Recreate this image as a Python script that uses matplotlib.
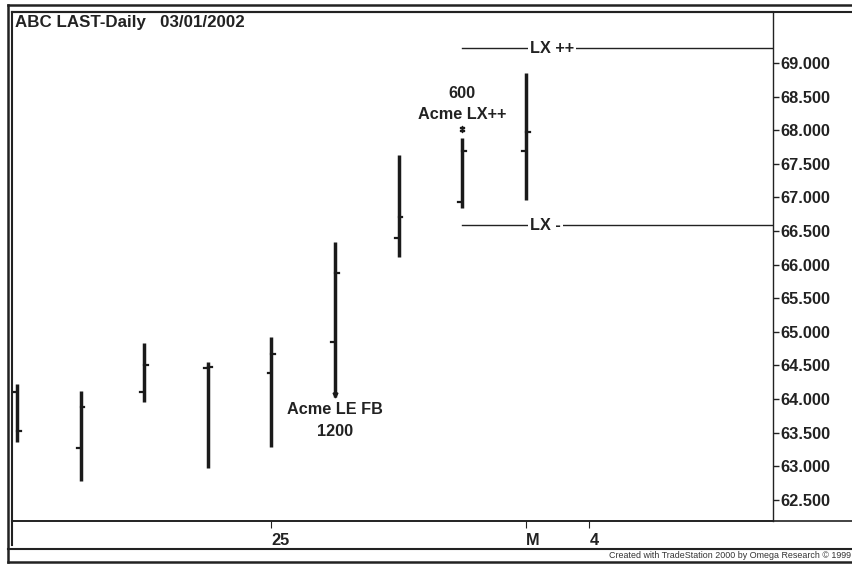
import numpy as np
import matplotlib
matplotlib.use("Agg")
import matplotlib.pyplot as plt
from matplotlib.lines import Line2D

plt.rcParams["font.family"] = ["Liberation Sans", "DejaVu Sans"]

# --- dati ---
bar_days = ["19", "20", "21", "22", "25", "26", "27", "28", "1"]
opens = [64.10, 63.27, 64.10, 64.46, 64.39, 64.85, 66.40, 66.93, 67.69]
highs = [64.22, 64.12, 64.83, 64.55, 64.92, 66.34, 67.63, 67.88, 68.85]
lows = [63.36, 62.78, 63.96, 62.97, 63.29, 64.03, 66.11, 66.84, 66.96]
closes = [63.52, 63.88, 64.51, 64.47, 64.67, 65.87, 66.71, 67.69, 67.97]

date_tick_pos = [4, 8, 9]
date_tick_labels = ["25", "M", "4"]

price_ticks = [62.5, 63.0, 63.5, 64.0, 64.5, 65.0, 65.5, 66.0, 66.5, 67.0, 67.5, 68.0, 68.5, 69.0]

lx_plus = 69.22
lx_minus = 66.59
lx_start = 7

entry_bar, entry_price = 5, 64.06
exit_bar, exit_price = 7, 68.02

W, H = 853, 564


def fx(px):
    return px / W


def fy(py):
    return 1 - py / H


fig = plt.figure(figsize=(W / 100, H / 100), dpi=100)
ax = fig.add_axes([fx(12), fy(521), fx(773 - 12), (521 - 12) / H])

x = np.arange(len(bar_days))
tick_w = 0.06
for i in x:
    ax.plot([i, i], [lows[i], highs[i]], color="#1a1a1a", lw=2.5, solid_capstyle="butt")
    ax.plot([i - tick_w, i], [opens[i], opens[i]], color="#1a1a1a", lw=1.6)
    ax.plot([i, i + tick_w], [closes[i], closes[i]], color="#1a1a1a", lw=1.6)

# segnali
ax.plot([entry_bar], [entry_price], marker="v", ms=3.5, color="#1a1a1a")
ax.plot([exit_bar], [exit_price], marker="$\u2021$", ms=5, color="#1a1a1a")

txt = dict(ha="center", va="center", fontsize=11.7, fontweight="bold", color="#222222")
ax.text(entry_bar, 63.84, "Acme LE FB", **txt)
ax.text(entry_bar, 63.51, "1200", **txt)
ax.text(exit_bar, 68.54, "600", **txt)
ax.text(exit_bar, 68.24, "Acme LX++", **txt)

# livelli di uscita
xmax = 11.89
ax.plot([lx_start, xmax], [lx_plus, lx_plus], color="#222222", lw=1.0)
ax.plot([lx_start, xmax], [lx_minus, lx_minus], color="#222222", lw=1.0)
ax.text(8.07, lx_plus, "LX ++", ha="left", va="center", fontsize=11.7, fontweight="bold", color="#222222",
        bbox=dict(facecolor="white", edgecolor="none", pad=1.5))
ax.text(8.07, lx_minus, "LX -", ha="left", va="center", fontsize=11.7, fontweight="bold", color="#222222",
        bbox=dict(facecolor="white", edgecolor="none", pad=1.5))

ax.set_xlim(-0.08, xmax)
ax.set_ylim(62.185, 69.76)

ax.yaxis.tick_right()
ax.set_yticks(price_ticks)
ax.set_yticklabels([f"{p:.3f}" for p in price_ticks])
ax.tick_params(axis="y", direction="out", length=4, width=1, pad=1, labelsize=11.8, colors="#222222")
for lab in ax.get_yticklabels():
    lab.set_fontweight("bold")

ax.set_xticks(date_tick_pos)
ax.set_xticklabels(date_tick_labels)
ax.tick_params(axis="x", direction="out", length=5, width=0.8, pad=3.5, labelsize=11.8, colors="#222222")
for lab in ax.get_xticklabels():
    lab.set_fontweight("bold")
    lab.set_horizontalalignment("left")

for side in ["left", "top", "bottom", "right"]:
    ax.spines[side].set_color("#222222")
ax.spines["left"].set_linewidth(1.5)
ax.spines["top"].set_linewidth(1.5)
ax.spines["bottom"].set_linewidth(1.2)
ax.spines["right"].set_linewidth(1.0)

# cornice esterna
def fig_line(x0, y0, x1, y1, lw=1.5):
    fig.add_artist(Line2D([fx(x0), fx(x1)], [fy(y0), fy(y1)], color="#222222", lw=lw))

fig_line(8, 5, W, 5, 1.8)
fig_line(12, 12, W, 12, 1.5)
fig_line(8, 5, 8, 562, 1.8)
fig_line(12, 521, W, 521, 1.2)
fig_line(12, 521, 12, 545, 1.5)
fig_line(8, 549, W, 549, 1.5)
fig_line(8, 562, W, 562, 1.8)

fig.text(fx(15), fy(22), "ABC LAST-Daily   03/01/2002", ha="left", va="center",
         fontsize=12.2, fontweight="bold", color="#222222")
fig.text(fx(851), fy(556), "Created with TradeStation 2000 by Omega Research \u00a9 1999",
         ha="right", va="center", fontsize=6.4, color="#333333")

fig.savefig("out.png", dpi=100)
